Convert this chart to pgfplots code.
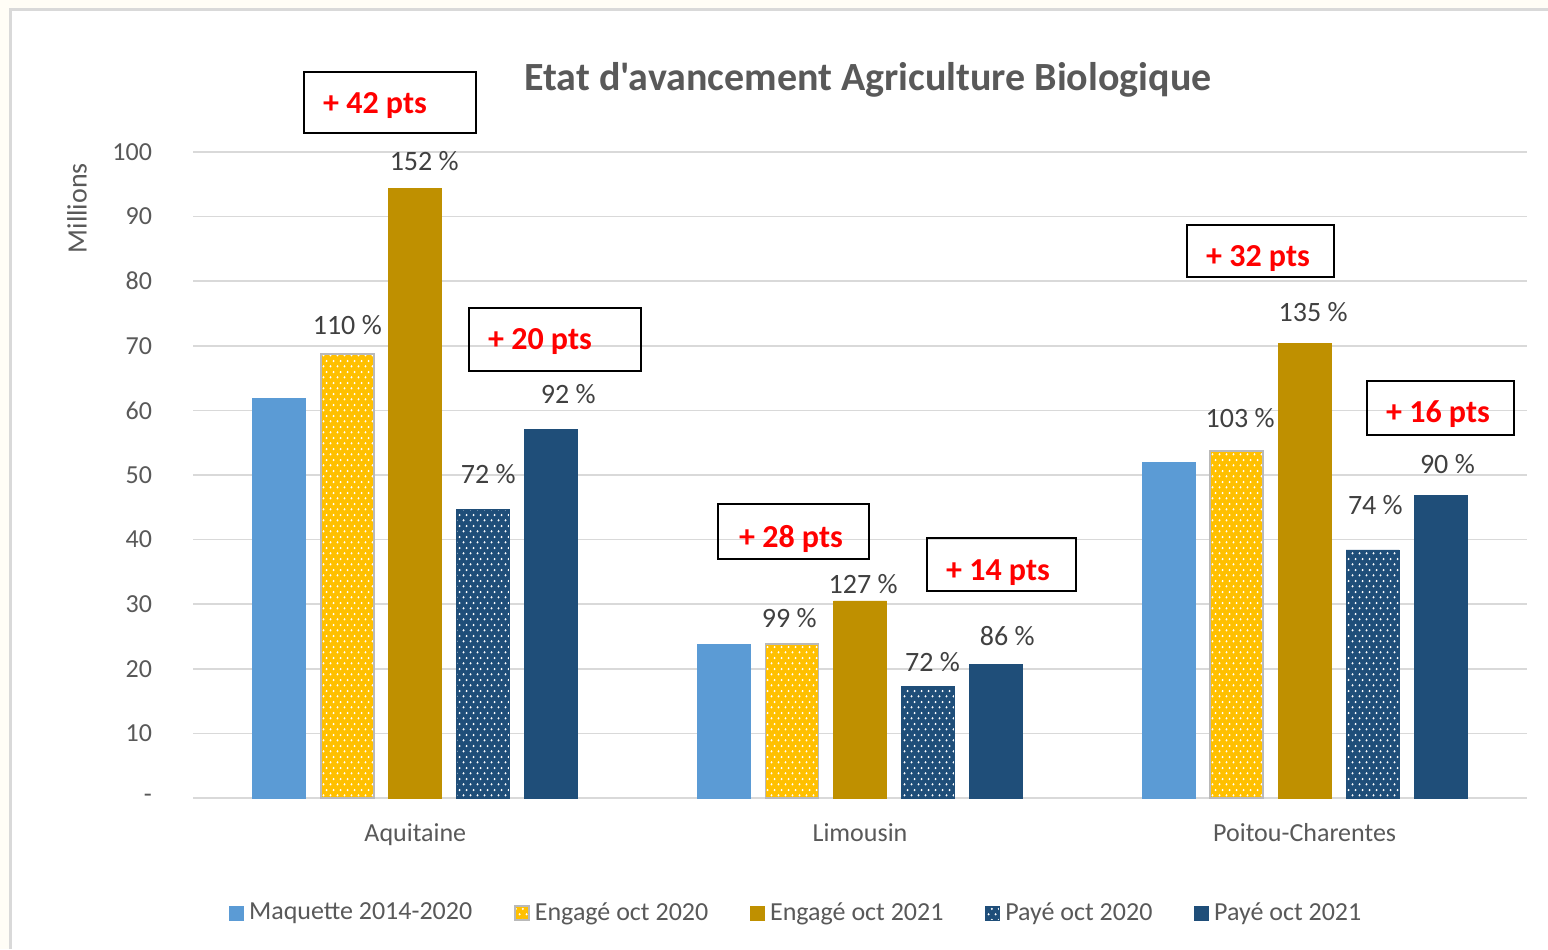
\documentclass[border=0pt]{standalone}
\usepackage{fontspec}
\setmainfont{Carlito}[Ligatures=TeXOff]
\usepackage{pgfplots}
\pgfplotsset{compat=1.18}
\usetikzlibrary{patterns}

\definecolor{bgcream}{HTML}{FFFDF6}
\definecolor{framegray}{HTML}{D9D9D9}
\definecolor{txtgray}{HTML}{595959}
\definecolor{lblgray}{HTML}{404040}
\definecolor{gridgray}{HTML}{D9D9D9}
\definecolor{maq}{HTML}{5B9BD5}
\definecolor{eng20}{HTML}{FFC000}
\definecolor{eng21}{HTML}{BF9000}
\definecolor{paye}{HTML}{1F4E79}

% staggered dot pattern, like the Excel 5% pattern fill
\pgfdeclarepatternformonly{exceldots}{\pgfqpoint{0pt}{0pt}}{\pgfqpoint{3.5pt}{5.4pt}}{\pgfqpoint{3.5pt}{5.4pt}}{
  \pgfpathcircle{\pgfqpoint{0.875pt}{1.35pt}}{0.6pt}
  \pgfpathcircle{\pgfqpoint{2.625pt}{4.05pt}}{0.6pt}
  \pgfusepath{fill}
}

\begin{document}
\begin{tikzpicture}
% background and frame (coordinates in reference pixels, y downwards)
\fill[bgcream] (0,0) rectangle (774pt,474.5pt);
\begin{scope}[x=0.5pt,y=-0.5pt,yshift=474.5pt]
  \fill[white] (10,10) rectangle (1548,949);
  \draw[framegray, line width=1.5pt] (10,949) -- (10,10) -- (1548,10);
\end{scope}

\begin{axis}[
    at={(96.5pt,75.5pt)}, anchor=south west,
    scale only axis,
    width=667pt, height=323pt,
    xmin=-0.5, xmax=2.5,
    ymin=0, ymax=100,
    ybar=7.5pt, bar width=26.5pt,
    axis line style={draw=none},
    tick style={draw=none},
    ymajorgrids,
    grid style={gridgray, line width=0.75pt},
    ytick={0,10,...,100},
    yticklabels={-\hspace{7pt},10,20,30,40,50,60,70,80,90,100},
    xtick={0,1,2},
    xticklabels={Aquitaine,Limousin,Poitou-Charentes},
    ticklabel style={font=\fontsize{13}{15}\selectfont, text=txtgray},
    yticklabel style={xshift=-17pt},
    xticklabel style={yshift=-5pt},
    ylabel={Millions},
    ylabel style={at={(axis description cs:-0.087,0.913)}, anchor=center,
        font=\fontsize{14}{16}\selectfont, text=txtgray},
    clip=false,
    legend columns=5,
    legend cell align=left,
    legend style={draw=none, fill=none, at={(0.453,-0.178)}, anchor=center,
        font=\fontsize{13}{15}\selectfont, text=txtgray,
        /tikz/every even column/.append style={column sep=19pt}},
    legend image code/.code={\draw[#1] (0pt,-3.5pt) rectangle (7pt,3.5pt);},
]
\addplot[fill=maq, draw=maq] coordinates {(0,61.9) (1,23.8) (2,52.0)};
\addlegendentry{\hspace{0.5pt}Maquette 2014-2020}
\addplot[fill=eng20, draw=gray!55, line width=0.8pt,
    postaction={pattern=exceldots, pattern color=white}]
    coordinates {(0,68.7) (1,23.8) (2,53.7)};
\addlegendentry{\hspace{0.5pt}Engagé oct 2020}
\addplot[fill=eng21, draw=eng21] coordinates {(0,94.4) (1,30.5) (2,70.4)};
\addlegendentry{\hspace{0.5pt}Engagé oct 2021}
\addplot[fill=paye, draw=paye,
    postaction={pattern=exceldots, pattern color=white}]
    coordinates {(0,44.7) (1,17.2) (2,38.4)};
\addlegendentry{\hspace{0.5pt}Payé oct 2020}
\addplot[fill=paye, draw=paye] coordinates {(0,57.0) (1,20.7) (2,46.9)};
\addlegendentry{\hspace{0.5pt}Payé oct 2021}

% percentage labels
\begin{scope}[every node/.style={font=\fontsize{14}{16}\selectfont, text=lblgray}]
\node at (axis cs:-0.153,73.2) {110 \%};
\node at (axis cs:0.020,98.6) {152 \%};
\node at (axis cs:0.164,50.2) {72 \%};
\node at (axis cs:0.344,62.5) {92 \%};
\node at (axis cs:0.841,27.9) {99 \%};
\node at (axis cs:1.007,33.1) {127 \%};
\node at (axis cs:1.163,21.1) {72 \%};
\node at (axis cs:1.331,25.1) {86 \%};
\node at (axis cs:1.855,58.8) {103 \%};
\node at (axis cs:2.019,75.2) {135 \%};
\node at (axis cs:2.159,45.4) {74 \%};
\node at (axis cs:2.321,51.7) {90 \%};
\end{scope}
\end{axis}

% title and point-gain boxes (reference pixels)
\begin{scope}[x=0.5pt,y=-0.5pt,yshift=474.5pt]
  \node[font=\fontsize{20}{24}\selectfont\bfseries, text=txtgray] at (868,80)
    {Etat d'avancement Agriculture Biologique};
  \draw[black, line width=1.2pt] (304,72) rectangle (476,133);
  \draw[black, line width=1.2pt] (469,308) rectangle (641,371);
  \draw[black, line width=1.2pt] (718,504) rectangle (869,559);
  \draw[black, line width=1.2pt] (927,538) rectangle (1076,591);
  \draw[black, line width=1.2pt] (1187,225) rectangle (1334,277);
  \draw[black, line width=1.2pt] (1367,381) rectangle (1514,435);
  \begin{scope}[every node/.style={font=\fontsize{16}{18}\selectfont\bfseries, text=red}]
    \node at (375,106) {+ 42 pts};
    \node at (540,342) {+ 20 pts};
    \node at (791,539) {+ 28 pts};
    \node at (998,573) {+ 14 pts};
    \node at (1258,259) {+ 32 pts};
    \node at (1438,414) {+ 16 pts};
  \end{scope}
\end{scope}
\pgfresetboundingbox
\useasboundingbox (0,0) rectangle (774pt,474.5pt);
\end{tikzpicture}
\end{document}
